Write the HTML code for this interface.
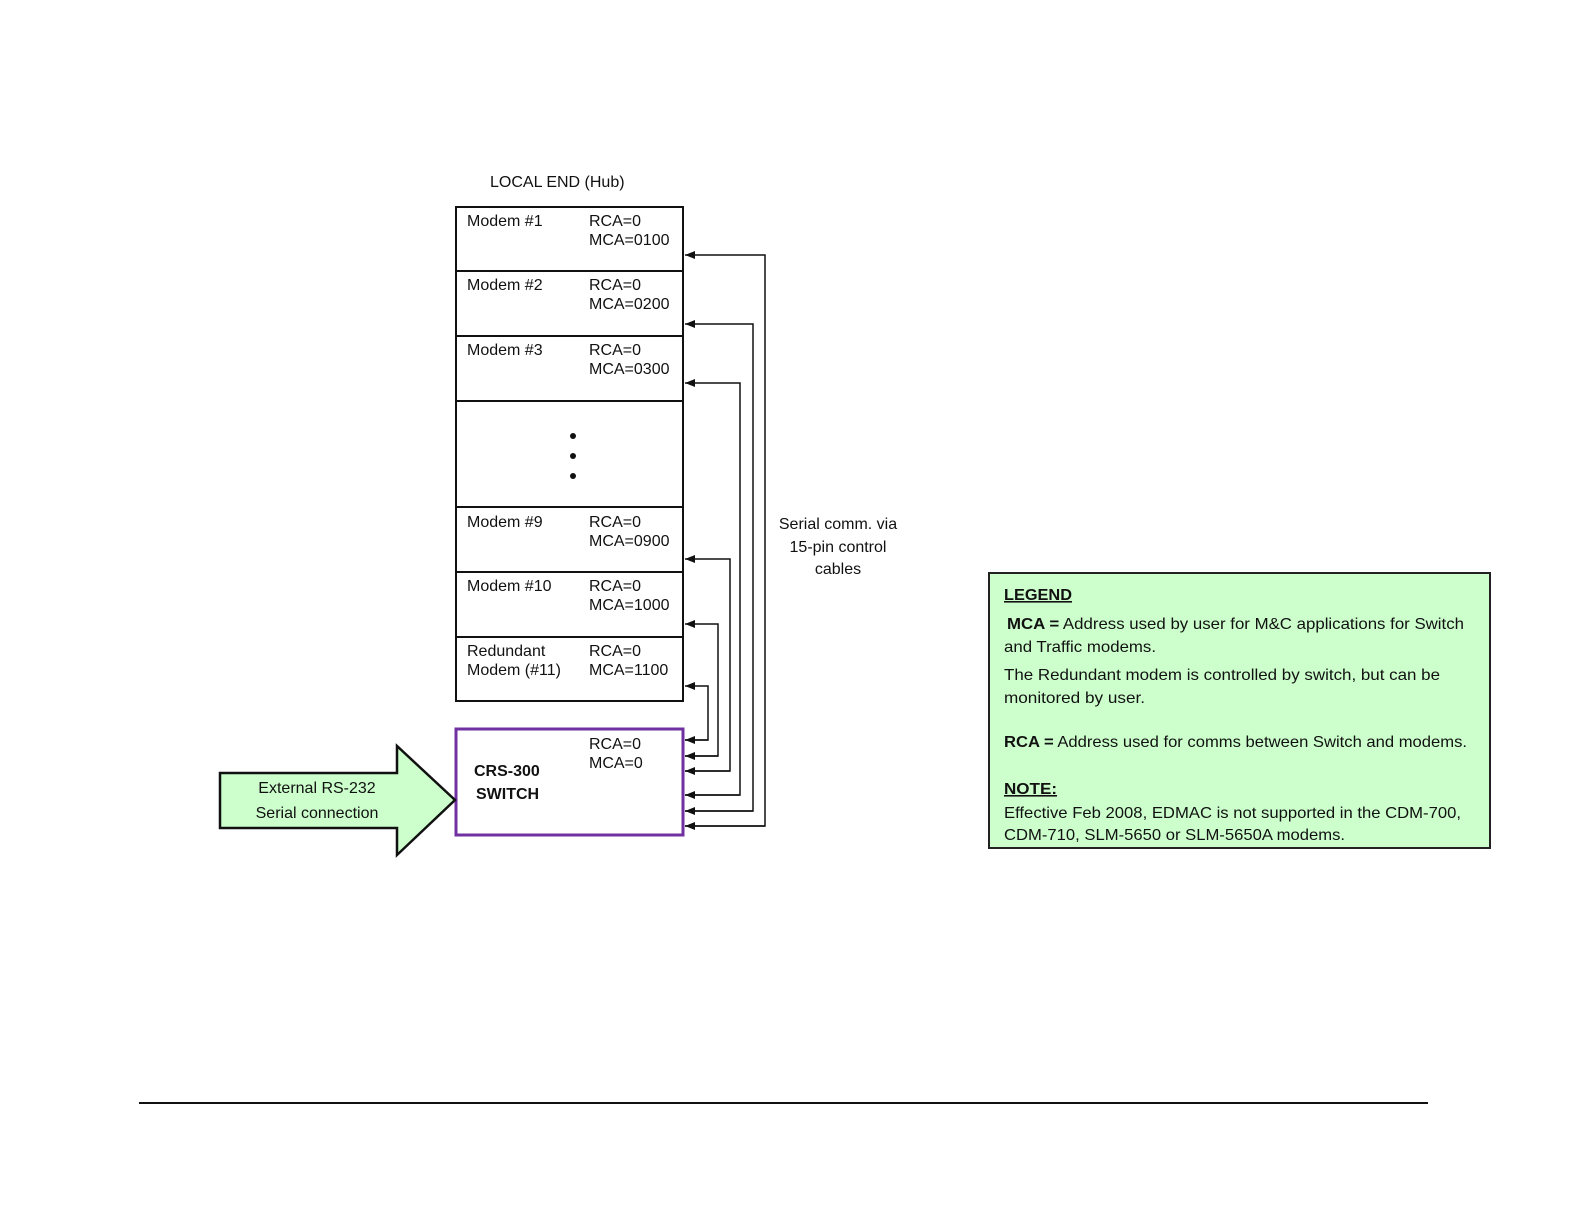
<!DOCTYPE html>
<html><head><meta charset="utf-8"><style>
html,body{margin:0;padding:0;background:#fff;width:1584px;height:1224px;overflow:hidden}
svg{display:block}
.a{font-family:"Liberation Sans",Arial,sans-serif;font-size:16px;fill:#111}
.c{font-family:"Liberation Sans",Arial,sans-serif;font-size:16px;fill:#111}
</style></head><body>
<svg width="1584" height="1224" viewBox="0 0 1584 1224" xmlns="http://www.w3.org/2000/svg">
<defs><marker id="ar" markerWidth="10" markerHeight="8" refX="10" refY="4" orient="auto" markerUnits="userSpaceOnUse"><path d="M0,0 L10,4 L0,8 z" fill="#111"/></marker></defs>
<text class="a" x="490" y="187" font-size="17">LOCAL END (Hub)</text>
<rect x="456" y="207" width="227" height="494" fill="#fff" stroke="#111" stroke-width="2"/>
<g stroke="#111" stroke-width="2">
<line x1="456" y1="271" x2="683" y2="271"/><line x1="456" y1="336" x2="683" y2="336"/>
<line x1="456" y1="401" x2="683" y2="401"/><line x1="456" y1="507" x2="683" y2="507"/>
<line x1="456" y1="572" x2="683" y2="572"/><line x1="456" y1="637" x2="683" y2="637"/>
</g>
<g class="a">
<text x="467" y="226">Modem #1</text><text x="589" y="226">RCA=0</text><text x="589" y="245">MCA=0100</text>
<text x="467" y="290">Modem #2</text><text x="589" y="290">RCA=0</text><text x="589" y="309">MCA=0200</text>
<text x="467" y="355">Modem #3</text><text x="589" y="355">RCA=0</text><text x="589" y="374">MCA=0300</text>
<text x="467" y="527">Modem #9</text><text x="589" y="527">RCA=0</text><text x="589" y="546">MCA=0900</text>
<text x="467" y="591">Modem #10</text><text x="589" y="591">RCA=0</text><text x="589" y="610">MCA=1000</text>
<text x="467" y="656">Redundant</text><text x="467" y="675">Modem (#11)</text><text x="589" y="656">RCA=0</text><text x="589" y="675">MCA=1100</text>
</g>
<circle cx="573" cy="436" r="3" fill="#111"/><circle cx="573" cy="456" r="3" fill="#111"/><circle cx="573" cy="476" r="3" fill="#111"/>
<rect x="456" y="729" width="227" height="106" fill="#fff" stroke="#7030a0" stroke-width="3"/>
<text class="a" x="474" y="776" font-size="19" font-weight="bold">CRS-300</text>
<text class="a" x="476" y="799" font-size="19" font-weight="bold">SWITCH</text>
<text class="a" x="589" y="749">RCA=0</text><text class="a" x="589" y="768">MCA=0</text>
<g fill="none" stroke="#111" stroke-width="1.5">
<polyline points="685,826 765,826 765,255 685,255" marker-end="url(#ar)"/>
<line x1="765" y1="826" x2="685" y2="826" marker-end="url(#ar)"/>
<polyline points="685,811 753,811 753,324 685,324" marker-end="url(#ar)"/>
<line x1="753" y1="811" x2="685" y2="811" marker-end="url(#ar)"/>
<polyline points="685,795 740,795 740,383 685,383" marker-end="url(#ar)"/>
<line x1="740" y1="795" x2="685" y2="795" marker-end="url(#ar)"/>
<polyline points="685,771 730,771 730,559 685,559" marker-end="url(#ar)"/>
<line x1="730" y1="771" x2="685" y2="771" marker-end="url(#ar)"/>
<polyline points="685,756 718,756 718,624 685,624" marker-end="url(#ar)"/>
<line x1="718" y1="756" x2="685" y2="756" marker-end="url(#ar)"/>
<polyline points="685,740 708,740 708,686 685,686" marker-end="url(#ar)"/>
<line x1="708" y1="740" x2="685" y2="740" marker-end="url(#ar)"/>
</g>
<g class="c" text-anchor="middle">
<text x="838" y="529">Serial comm. via</text><text x="838" y="552">15-pin control</text><text x="838" y="574">cables</text>
</g>
<polygon points="220,773 397,773 397,746 455,800 397,855 397,828 220,828" fill="#ccffcc" stroke="#111" stroke-width="2.5"/>
<text class="c" x="317" y="793" text-anchor="middle" font-size="17">External RS-232</text>
<text class="c" x="317" y="818" text-anchor="middle" font-size="17">Serial connection</text>
<rect x="989" y="573" width="501" height="275" fill="#ccffcc" stroke="#222" stroke-width="2"/>
<g class="c">
<text x="1004" y="600" font-weight="bold" text-decoration="underline" textLength="68" lengthAdjust="spacingAndGlyphs">LEGEND</text>
<text x="1007" y="629" textLength="457" lengthAdjust="spacingAndGlyphs"><tspan font-weight="bold">MCA =</tspan> Address used by user for M&amp;C applications for Switch</text>
<text x="1004" y="652" textLength="152" lengthAdjust="spacingAndGlyphs">and Traffic modems.</text>
<text x="1004" y="680" textLength="436" lengthAdjust="spacingAndGlyphs">The Redundant modem is controlled by switch, but can be</text>
<text x="1004" y="703" textLength="141" lengthAdjust="spacingAndGlyphs">monitored by user.</text>
<text x="1004" y="747" textLength="463" lengthAdjust="spacingAndGlyphs"><tspan font-weight="bold">RCA =</tspan> Address used for comms between Switch and modems.</text>
<text x="1004" y="794" font-weight="bold" text-decoration="underline" textLength="53" lengthAdjust="spacingAndGlyphs">NOTE:</text>
<text x="1004" y="818" textLength="457" lengthAdjust="spacingAndGlyphs">Effective Feb 2008, EDMAC is not supported in the CDM-700,</text>
<text x="1004" y="840" textLength="341" lengthAdjust="spacingAndGlyphs">CDM-710, SLM-5650 or SLM-5650A modems.</text>
</g>
<line x1="139" y1="1103" x2="1428" y2="1103" stroke="#111" stroke-width="2"/>
</svg>
</body></html>
